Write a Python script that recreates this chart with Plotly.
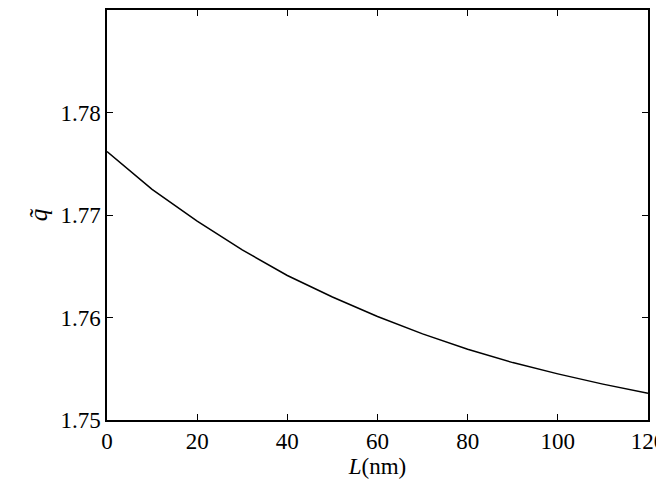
import plotly.graph_objects as go

L_nm = [0, 10, 20, 30, 40, 50, 60, 70, 80, 90, 100, 110, 120]
q_tilde = [1.7762, 1.7725, 1.7694, 1.7666, 1.7641, 1.7620, 1.7601, 1.7584, 1.7569, 1.7556, 1.7545, 1.7535, 1.7526]

FONT = "Liberation Serif, Times New Roman, serif"
fig = go.Figure(go.Scatter(x=L_nm, y=q_tilde, mode="lines", line=dict(color="black", width=1.5)))
ax = dict(showgrid=False, zeroline=False, showline=True, linecolor="black", linewidth=1.5,
          mirror="ticks", ticks="inside", ticklen=6, tickcolor="black",
          tickfont=dict(family=FONT, size=23, color="black"))
fig.update_xaxes(range=[0, 120], tickvals=[0, 20, 40, 60, 80, 100, 120],
                 title=dict(text="<i>L</i>(nm)", font=dict(family=FONT, size=23, color="black"), standoff=2), **ax)
fig.update_yaxes(range=[1.75, 1.79], tickvals=[1.75, 1.76, 1.77, 1.78, 1.79], tickformat=".2f",
                 title=dict(text="<i>q&#771;</i>", font=dict(family=FONT, size=25, color="black"), standoff=6), **ax)
fig.update_layout(width=664, height=494, plot_bgcolor="white", paper_bgcolor="white",
                  margin=dict(l=99, r=24, t=0, b=82, pad=0), showlegend=False)
fig.write_html("out.html")
